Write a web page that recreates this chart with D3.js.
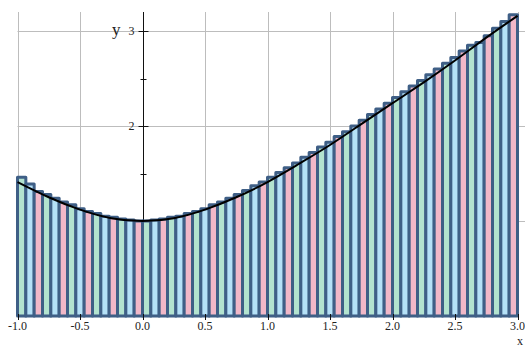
<!DOCTYPE html>
<html>
<head>
<meta charset="utf-8">
<script src="https://cdn.jsdelivr.net/npm/d3@7"></script>
<style>
  html, body { margin: 0; padding: 0; background: #fff; }
  svg { display: block; }
  text { font-family: "Liberation Serif", "DejaVu Serif", serif; fill: #222; }
</style>
</head>
<body>
<svg id="chart" width="525" height="348"></svg>
<script>
// Riemann-sum style bars: 60 equal subintervals on [-1, 3]
const xStart = -1;
const xEnd = 3;
const barHeights = [
  1.46, 1.39, 1.31, 1.28, 1.24, 1.20, 1.17, 1.13, 1.10, 1.08,
  1.05, 1.04, 1.02, 1.01, 1.00, 1.00, 1.01, 1.02, 1.04, 1.05,
  1.08, 1.10, 1.13, 1.17, 1.20, 1.24, 1.28, 1.32, 1.37, 1.41,
  1.46, 1.51, 1.56, 1.61, 1.67, 1.72, 1.78, 1.83, 1.89, 1.94,
  2.00, 2.06, 2.12, 2.18, 2.24, 2.30, 2.36, 2.42, 2.48, 2.54,
  2.60, 2.66, 2.72, 2.79, 2.85, 2.88, 2.95, 3.03, 3.10, 3.17
];
const barColors = ["#b3e3cf", "#b5e1f7", "#f1b8c8"];

// Sampled points of the curve
const curveX = [-1, -0.75, -0.5, -0.25, 0, 0.25, 0.5, 0.75, 1, 1.25, 1.5, 1.75, 2, 2.25, 2.5, 2.75, 3];
const curveY = [1.41, 1.25, 1.12, 1.03, 1.00, 1.03, 1.12, 1.25, 1.41, 1.60, 1.80, 2.02, 2.24, 2.46, 2.69, 2.93, 3.16];

// Axis ticks
const xTickValues = [-1, -0.5, 0, 0.5, 1, 1.5, 2, 2.5, 3];
const xTickLabels = ["-1.0", "-0.5", "0.0", "0.5", "1.0", "1.5", "2.0", "2.5", "3.0"];
const yMajorTicks = [1, 2, 3];
const yLabelTicks = [2, 3];
const yMinorTicks = [0.5, 1.5, 2.5];

const svg = d3.select("#chart");
const x = d3.scaleLinear().domain([xStart, xEnd]).range([17.5, 517.5]);
const y = d3.scaleLinear().domain([0, 3.2]).range([316, 12]);

// Grid
const grid = svg.append("g").attr("stroke", "#bdbdbd").attr("stroke-width", 1);
grid.selectAll("line.v").data(xTickValues).join("line")
  .attr("class", "v")
  .attr("x1", d => Math.round(x(d)) + 0.5).attr("x2", d => Math.round(x(d)) + 0.5)
  .attr("y1", y(3.2)).attr("y2", y(0));
grid.selectAll("line.h").data(yMajorTicks).join("line")
  .attr("class", "h")
  .attr("x1", x(xStart)).attr("x2", 525)
  .attr("y1", d => Math.round(y(d)) + 0.5).attr("y2", d => Math.round(y(d)) + 0.5);

// Y axis line with crossing ticks
const x0 = Math.round(x(0)) + 0.5;
const yAxis = svg.append("g").attr("stroke", "#111").attr("stroke-width", 1);
yAxis.append("line").attr("x1", x0).attr("x2", x0).attr("y1", y(3.2)).attr("y2", y(0));
yAxis.selectAll("line.maj").data(yMajorTicks).join("line")
  .attr("x1", x0 - 5).attr("x2", x0 + 5)
  .attr("y1", d => Math.round(y(d)) + 0.5).attr("y2", d => Math.round(y(d)) + 0.5);
yAxis.selectAll("line.min").data(yMinorTicks).join("line")
  .attr("x1", x0 - 3).attr("x2", x0 + 3)
  .attr("y1", d => Math.round(y(d)) + 0.5).attr("y2", d => Math.round(y(d)) + 0.5);

// Bars
const n = barHeights.length;
const w = (xEnd - xStart) / n;
svg.append("g").selectAll("rect").data(barHeights).join("rect")
  .attr("x", (d, i) => x(xStart + i * w))
  .attr("width", (d, i) => x(xStart + (i + 1) * w) - x(xStart + i * w))
  .attr("y", d => y(d))
  .attr("height", d => y(0) - y(d))
  .attr("fill", (d, i) => barColors[i % 3])
  .attr("stroke", "#3f5f86")
  .attr("stroke-width", 3)
  .attr("stroke-linejoin", "round");

// X axis ticks at the base
svg.append("g").attr("stroke", "#111").selectAll("line").data(xTickValues).join("line")
  .attr("x1", d => Math.round(x(d)) + 0.5).attr("x2", d => Math.round(x(d)) + 0.5)
  .attr("y1", y(0) - 2).attr("y2", y(0) + 4);

// Curve
const line = d3.line().x(d => x(d[0])).y(d => y(d[1])).curve(d3.curveNatural);
svg.append("path")
  .datum(d3.zip(curveX, curveY))
  .attr("d", line)
  .attr("fill", "none")
  .attr("stroke", "#000")
  .attr("stroke-width", 2);

// Tick labels
svg.append("g").selectAll("text").data(xTickValues).join("text")
  .attr("x", d => x(d)).attr("y", 330)
  .attr("text-anchor", "middle")
  .attr("font-size", 12)
  .text((d, i) => xTickLabels[i]);
svg.append("g").selectAll("text").data(yLabelTicks).join("text")
  .attr("x", x0 - 9).attr("y", d => y(d) + 4)
  .attr("text-anchor", "end")
  .attr("font-size", 12)
  .text(d => d);

// Axis titles
svg.append("text").attr("x", 517).attr("y", 345).attr("font-size", 12).text("x");
svg.append("text").attr("x", 112).attr("y", 35).attr("font-size", 17).text("y");
</script>
</body>
</html>
